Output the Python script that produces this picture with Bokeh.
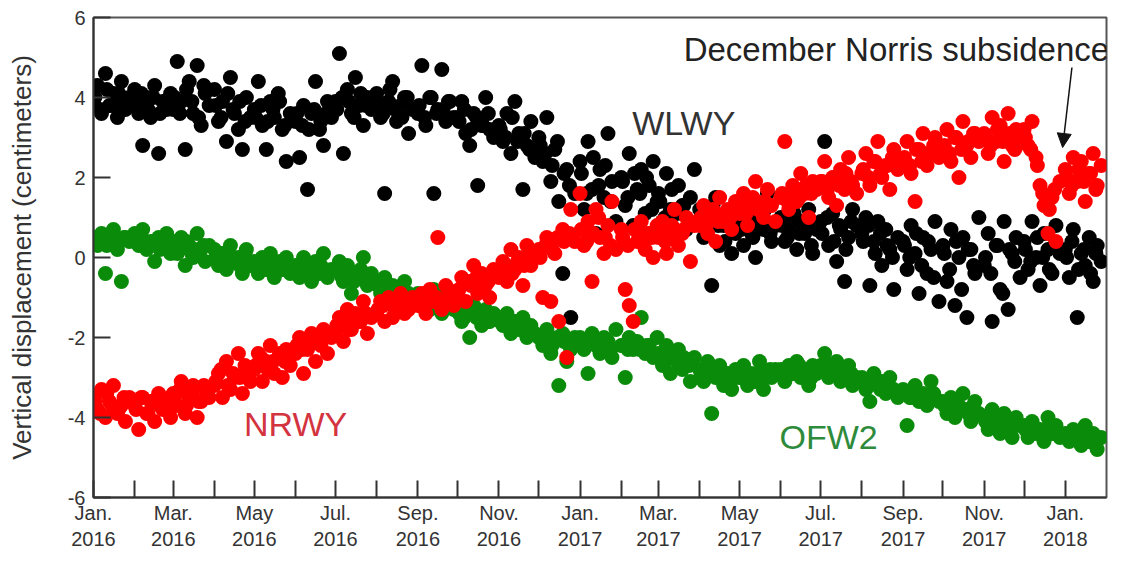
from datetime import datetime, timedelta
from bokeh.plotting import figure
from bokeh.models import FixedTicker, CustomJSTickFormatter, Arrow, NormalHead, Range1d
from bokeh.core.properties import value
from bokeh.embed import file_html
from bokeh.resources import INLINE

# ---- data -------------------------------------------------------------
months = [(2016, m) for m in range(1, 13)] + [(2017, m) for m in range(1, 13)] + [(2018, 1)]
sample_days = [0, 3, 6, 9, 12, 15, 18, 21, 24, 27]   # main samples within each month
extra_days = [1, 5, 10, 14, 19, 23]                   # additional samples within each month

month_labels = ["Jan.", "", "Mar.", "", "May", "", "Jul.", "", "Sep.", "", "Nov.", ""]
y_ticks = [-6, -4, -2, 0, 2, 4, 6]

# WLWY vertical displacement (cm), 10 samples per month, Jan 2016 .. Jan 2018
wlwy = [
    3.9, 4.3, 3.6, 4.6, 3.8, 4.1, 3.5, 4.4, 3.7, 4.0,
    4.2, 3.6, 2.8, 4.0, 3.5, 4.3, 2.6, 3.9, 3.7, 4.1,
    3.7, 4.9, 3.9, 2.7, 4.4, 3.6, 4.8, 3.3, 4.1, 3.8,
    4.2, 3.4, 3.9, 2.9, 4.5, 3.6, 3.2, 2.7, 4.0, 3.5,
    3.7, 4.4, 3.3, 2.7, 3.9, 3.5, 4.1, 3.2, 2.4, 3.6,
    3.4, 2.5, 3.8, 1.7, 3.6, 4.4, 3.2, 2.8, 3.9, 3.5,
    3.9, 5.1, 2.6, 4.2, 3.6, 4.5, 3.8, 3.3, 4.0, 3.7,
    4.1, 3.5, 1.6, 3.9, 4.4, 3.4, 3.8, 4.0, 3.1, 3.7,
    3.6, 4.8, 3.3, 4.0, 1.6, 3.7, 4.7, 3.4, 3.9, 3.5,
    3.5, 3.9, 3.1, 2.8, 3.6, 1.8, 3.3, 4.0, 3.2, 3.0,
    3.3, 2.9, 3.6, 2.6, 3.9, 3.1, 1.7, 2.8, 3.4, 2.5,
    3.0, 2.4, 3.5, 1.9, 2.7, 1.4, -0.4, 2.2, -1.5, 1.6,
    2.4, 1.2, 2.9, 1.7, 0.6, 2.2, 1.5, 3.1, 1.9, 0.9,
    2.0, 1.3, 2.6, 0.8, 1.7, 2.2, 1.1, 1.8, 2.4, 1.4,
    1.6, 0.9, 2.1, 1.2, 0.5, 1.8, 1.3, 0.7, 1.5, 2.2,
    1.2, 0.5, 0.9, -0.7, 1.5, 0.3, 0.8, 1.1, 0.1, 0.6,
    0.9, 0.3, 1.4, 0.6, 0.0, 1.1, 0.7, 1.6, 0.4, 0.8,
    1.0, 0.4, 0.8, 1.3, 0.2, 0.9, 0.6, 1.2, 0.1, 0.7,
    0.9, 2.9, 0.3, 1.1, -0.1, 0.7, -0.6, 0.5, 1.2, 0.8,
    0.6, 1.0, -0.7, 0.4, 0.9, -0.2, 0.7, 0.2, -0.8, 0.5,
    0.4, -0.3, 0.8, 0.1, -0.9, 0.5, -0.4, 0.2, 0.9, -1.1,
    0.3, -0.6, 0.7, -1.2, 0.0, 0.5, -1.5, 0.2, -0.4, 1.0,
    -0.2, 0.6, -1.6, 0.3, -0.8, 0.9, -1.3, 0.1, 0.5, -0.5,
    0.4, -0.3, 0.9, 0.0, -0.7, 0.6, 0.2, -0.4, 0.8, 0.1,
    0.2, -0.5, 0.7, -1.5, 0.1, -0.2, 0.5, -0.6, 0.3, -0.1,
]
# WLWY additional samples, 6 per month
wlwy_extra = [
    4.0, 3.7, 4.2, 3.8, 4.1, 3.9,
    3.8, 4.1, 3.7, 4.0, 3.6, 3.9,
    4.0, 3.6, 4.2, 3.9, 3.5, 4.3,
    3.8, 3.5, 4.1, 3.7, 3.9, 3.4,
    3.5, 3.8, 3.4, 3.7, 3.9, 3.3,
    3.6, 3.3, 3.2, 3.7, 3.4, 3.6,
    3.7, 4.0, 3.9, 3.5, 4.1, 3.8,
    3.9, 3.6, 4.2, 3.7, 3.5, 4.0,
    3.8, 3.5, 4.0, 3.6, 3.7, 3.9,
    3.4, 3.7, 3.2, 3.5, 3.3, 3.6,
    3.2, 3.0, 3.5, 2.9, 3.1, 2.7,
    2.8, 2.6, 2.3, 2.9, 2.1, 1.8,
    2.1, 1.6, 2.5, 1.8, 2.3, 1.4,
    1.9, 1.5, 2.1, 1.6, 2.0, 1.2,
    1.4, 1.0, 1.7, 1.1, 1.3, 0.9,
    1.0, 0.7, 1.3, 0.8, 0.4, 0.9,
    0.7, 1.0, 0.5, 0.9, 1.2, 0.6,
    0.8, 0.5, 1.1, 0.6, 0.9, 0.3,
    0.6, 1.0, 0.4, 0.8, 0.2, 0.9,
    0.4, 0.8, 0.1, 0.6, 0.3, 0.0,
    0.3, 0.0, 0.6, -0.2, 0.4, -0.5,
    0.1, -0.3, 0.4, -0.8, 0.2, -0.2,
    0.0, -0.4, 0.3, -0.9, 0.2, -0.1,
    0.2, -0.1, 0.5, 0.0, -0.3, 0.3,
    0.0, 0.4, -0.3, 0.2, -0.4, 0.1,
]

# NRWY vertical displacement (cm)
nrwy = [
    -3.5, -3.8, -3.3, -4.0, -3.6, -3.2, -3.9, -3.7, -4.1, -3.5,
    -3.7, -4.3, -3.5, -3.9, -3.6, -4.1, -3.4, -3.8, -3.6, -4.0,
    -3.4, -3.7, -3.1, -3.9, -3.5, -3.2, -4.0, -3.6, -3.3, -3.5,
    -3.2, -2.9, -3.5, -2.6, -3.3, -3.0, -2.4, -3.4, -2.8, -3.1,
    -2.8, -2.4, -3.1, -2.6, -2.2, -2.9, -2.5, -3.0, -2.3, -2.7,
    -2.4, -2.0, -2.9, -2.3, -1.9, -2.6, -2.1, -1.8, -2.4, -2.0,
    -1.9, -1.5, -2.1, -1.3, -1.8, -1.4, -1.6, -1.1, -1.9, -1.5,
    -1.4, -1.1, -1.6, -1.0, -1.5, -1.2, -0.9, -1.4, -1.3, -1.0,
    -1.2, -0.9, -1.4, -0.8, -1.1, 0.5, -1.3, -0.7, -1.0, -1.2,
    -0.9, -0.5, -1.1, -0.6, -0.2, -0.9, -0.4, -0.7, -1.0, -0.3,
    -0.5, -0.1, -0.6, 0.2, -0.3, 0.0, -0.7, 0.3, -0.2, 0.1,
    0.2, -1.0, 0.5, -1.1, 0.1, -1.6, 0.7, -2.5, 1.2, 0.4,
    1.6, 0.3, 0.9, -0.6, 1.2, 0.5, 0.1, 0.8, 1.4, 0.2,
    0.7, -0.8, -1.2, -1.6, 0.4, 0.9, 0.2, 0.6, 0.0, 0.8,
    0.5, 0.9, 0.1, 0.7, 1.2, 0.3, 0.6, 1.0, -0.1, 0.8,
    0.8, 1.3, 0.6, 1.1, 0.4, 1.5, 0.9, 1.2, 0.7, 1.4,
    1.1, 1.6, 0.8, 1.4, 1.9, 1.2, 1.0, 1.7, 1.3, 0.9,
    1.5, 2.9, 1.2, 1.8, 1.4, 2.1, 1.6, 1.0, 1.9, 1.7,
    1.9, 2.4, 1.5, 2.0, 1.3, 2.2, 1.7, 2.5, 1.8, 1.6,
    2.1, 2.6, 1.8, 2.4, 2.9, 2.0, 2.3, 1.7, 2.7, 2.2,
    2.4, 2.9, 2.1, 1.4, 2.7, 3.1, 2.3, 2.6, 3.0, 2.5,
    2.7, 3.2, 2.4, 3.0, 2.0, 3.4, 2.8, 2.5, 3.1, 2.9,
    3.1, 2.6, 3.5, 2.9, 3.3, 2.4, 3.6, 2.8, 3.2, 3.0,
    3.2, 2.8, 3.4, 2.5, 1.8, 1.3, 0.6, 1.5, 0.4, 1.9,
    2.2, 1.6, 2.5, 1.9, 2.4, 1.4, 2.1, 2.6, 1.8, 2.3,
]
nrwy_extra = [
    -3.6, -3.9, -3.4, -3.7, -3.8, -3.5,
    -3.8, -3.5, -3.9, -3.6, -3.7, -3.8,
    -3.5, -3.3, -3.7, -3.4, -3.6, -3.2,
    -3.1, -2.8, -3.2, -2.9, -3.0, -2.7,
    -2.7, -2.5, -2.8, -2.6, -2.4, -2.6,
    -2.2, -2.3, -2.1, -2.0, -2.2, -1.9,
    -1.7, -1.6, -1.8, -1.5, -1.6, -1.4,
    -1.3, -1.2, -1.1, -1.3, -1.2, -1.1,
    -1.0, -1.1, -0.9, -1.0, -1.2, -0.8,
    -0.8, -0.6, -0.7, -0.5, -0.8, -0.6,
    -0.3, -0.2, -0.4, -0.1, -0.2, 0.0,
    0.0, 0.3, 0.2, 0.5, 0.4, 0.6,
    0.7, 0.4, 0.6, 1.0, 0.5, 0.3,
    0.5, 0.3, 0.7, 0.4, 0.6, 0.5,
    0.6, 0.4, 0.8, 0.5, 0.7, 0.9,
    1.0, 0.8, 1.2, 0.9, 1.1, 1.0,
    1.3, 1.1, 1.5, 1.2, 1.4, 1.3,
    1.6, 1.4, 1.7, 1.5, 1.8, 1.6,
    1.9, 1.7, 2.0, 1.8, 2.1, 1.9,
    2.2, 2.0, 2.4, 2.1, 2.3, 2.5,
    2.5, 2.3, 2.7, 2.4, 2.6, 2.8,
    2.8, 2.6, 3.0, 2.7, 2.9, 3.1,
    3.0, 2.8, 3.2, 2.9, 3.1, 2.7,
    3.0, 2.7, 2.3, 1.6, 1.2, 1.7,
    2.0, 1.8, 2.2, 1.9, 2.1, 1.7,
]

# OFW2 vertical displacement (cm)
ofw2 = [
    0.5, 0.3, 0.6, -0.4, 0.4, 0.7, 0.2, -0.6, 0.5, 0.4,
    0.6, 0.3, 0.7, 0.2, 0.4, -0.1, 0.5, 0.3, 0.6, 0.1,
    0.4, 0.1, 0.5, -0.2, 0.3, 0.0, 0.6, 0.2, -0.1, 0.3,
    0.2, -0.2, 0.1, -0.3, 0.3, -0.1, 0.0, -0.4, 0.2, -0.2,
    -0.1, -0.4, 0.0, -0.3, 0.1, -0.5, -0.2, -0.3, 0.0, -0.4,
    -0.2, -0.5, 0.0, -0.3, -0.6, -0.1, -0.4, 0.1, -0.5, -0.3,
    -0.3, -0.1, -0.6, -0.2, -0.9, -0.4, -0.5, 0.0, -0.7, -0.4,
    -0.6, -0.9, -0.5, -1.0, -0.7, -0.8, -1.1, -0.6, -0.9, -1.0,
    -0.9, -1.2, -1.0, -1.3, -0.8, -1.1, -1.4, -1.0, -1.2, -1.3,
    -1.3, -1.6, -1.4, -2.0, -1.2, -1.5, -1.7, -1.3, -1.6, -1.4,
    -1.5, -1.7, -1.4, -1.9, -1.6, -1.8, -1.5, -2.0, -1.7, -1.9,
    -2.0, -2.2, -1.8, -2.4, -2.1, -3.2, -1.9, -2.6, -2.3, -2.0,
    -2.0, -2.3, -2.9, -1.9, -2.2, -2.4, -2.0, -2.1, -2.5, -1.8,
    -2.2, -3.0, -2.0, -2.3, -2.1, -1.5, -2.4, -2.2, -2.5, -2.0,
    -2.4, -2.7, -2.2, -2.9, -2.5, -2.3, -2.8, -2.6, -3.1, -2.5,
    -2.8, -3.1, -2.6, -3.9, -3.0, -2.7, -3.2, -2.9, -3.3, -2.8,
    -3.0, -2.7, -3.2, -2.9, -3.1, -2.6, -3.3, -2.9, -3.0, -2.8,
    -2.8, -3.1, -2.7, -2.9, -2.6, -3.0, -2.8, -3.2, -2.7, -2.9,
    -2.7, -2.4, -3.0, -2.8, -2.6, -3.1, -2.9, -2.7, -3.2, -3.0,
    -3.0, -3.3, -3.6, -2.9, -3.2, -3.1, -3.4, -3.0, -3.3, -3.5,
    -3.3, -4.2, -3.5, -3.2, -3.6, -3.4, -3.7, -3.1, -3.5, -3.6,
    -3.6, -3.9, -3.5, -4.0, -3.7, -3.4, -3.8, -4.1, -3.6, -3.9,
    -4.0, -4.3, -3.8, -4.2, -4.4, -3.9, -4.1, -4.5, -4.0, -4.2,
    -4.2, -4.5, -4.1, -4.4, -4.3, -4.6, -4.0, -4.4, -4.2, -4.5,
    -4.4, -4.6, -4.3, -4.5, -4.7, -4.2, -4.6, -4.4, -4.8, -4.5,
]
ofw2_extra = [
    0.4, 0.5, 0.3, 0.6, 0.4, 0.5,
    0.4, 0.5, 0.3, 0.4, 0.2, 0.5,
    0.3, 0.2, 0.4, 0.1, 0.2, 0.3,
    0.0, 0.1, -0.1, 0.0, -0.2, 0.1,
    -0.2, -0.1, -0.3, -0.2, -0.1, -0.3,
    -0.3, -0.2, -0.4, -0.3, -0.2, -0.4,
    -0.3, -0.5, -0.4, -0.6, -0.3, -0.5,
    -0.7, -0.8, -0.9, -0.8, -0.7, -0.9,
    -1.0, -1.1, -1.2, -1.1, -1.0, -1.2,
    -1.4, -1.5, -1.3, -1.5, -1.4, -1.6,
    -1.6, -1.7, -1.8, -1.6, -1.7, -1.8,
    -2.0, -2.1, -2.2, -2.0, -2.1, -2.2,
    -2.1, -2.2, -2.0, -2.2, -2.1, -2.3,
    -2.2, -2.3, -2.1, -2.3, -2.2, -2.4,
    -2.5, -2.6, -2.4, -2.6, -2.5, -2.7,
    -2.9, -3.0, -2.8, -3.0, -2.9, -3.1,
    -3.0, -2.9, -3.1, -2.9, -3.0, -2.8,
    -2.9, -2.8, -2.9, -2.7, -2.8, -3.0,
    -2.8, -2.7, -2.9, -2.8, -3.0, -2.9,
    -3.1, -3.2, -3.1, -3.3, -3.2, -3.3,
    -3.4, -3.5, -3.4, -3.5, -3.6, -3.4,
    -3.7, -3.8, -3.7, -3.8, -3.9, -3.7,
    -4.1, -4.2, -4.0, -4.1, -4.3, -4.2,
    -4.3, -4.4, -4.3, -4.4, -4.2, -4.4,
    -4.5, -4.4, -4.6, -4.5, -4.6, -4.7,
]

# annotation texts
station_names = ["WLWY", "NRWY", "OFW2"]
station_label_dates = [datetime(2017, 3, 20), datetime(2016, 6, 1), datetime(2017, 7, 7)]
station_label_y = [3.37, -4.17, -4.48]
station_label_colors = ["#333333", "#d3343f", "#2f8b3c"]
note_text = "December Norris subsidence"

# ---- helpers ----------------------------------------------------------
EPOCH = datetime(1970, 1, 1)


def ms(dt):
    return (dt - EPOCH).total_seconds() * 1000.0


def month_dates(days):
    out = []
    for (yy, mm) in months:
        for d in days:
            out.append(ms(datetime(yy, mm, 1) + timedelta(days=d)))
    return out


dates = month_dates(sample_days)
dates_extra = month_dates(extra_days)
tick_ms = [ms(datetime(yy, mm, 1)) for (yy, mm) in months]

# ---- figure -----------------------------------------------------------
p = figure(width=1109, height=553, x_axis_type="datetime",
           output_backend="svg", toolbar_location=None,
           x_range=Range1d(ms(datetime(2016, 1, 1)), ms(datetime(2018, 2, 1))),
           y_range=Range1d(-6, 6),
           min_border_left=93, min_border_right=3, min_border_top=17, min_border_bottom=56)

p.background_fill_color = "white"
p.border_fill_color = "white"
p.outline_line_color = "#555555"
p.outline_line_width = 2
p.xgrid.grid_line_color = None
p.ygrid.grid_line_color = None

SZ = 15
for xs, ys, col in [(dates, ofw2, "#0a8c0a"), (dates_extra, ofw2_extra, "#0a8c0a"),
                    (dates, wlwy, "#000000"), (dates_extra, wlwy_extra, "#000000"),
                    (dates, nrwy, "#ff0000"), (dates_extra, nrwy_extra, "#ff0000")]:
    k = min(len(xs), len(ys))
    p.scatter(xs[:k], ys[:k], size=SZ, color=col, line_color=None)

# axes
labels_js = "[" + ",".join('"%s"' % s for s in month_labels) + "]"
p.xaxis.ticker = FixedTicker(ticks=tick_ms)
p.xaxis.formatter = CustomJSTickFormatter(code="""
    const names = %s;
    const d = new Date(tick);
    const m = d.getUTCMonth();
    if (names[m] === "") { return ""; }
    return names[m] + "\\n" + d.getUTCFullYear();
""" % labels_js)
p.yaxis.ticker = FixedTicker(ticks=y_ticks)
p.yaxis.formatter = CustomJSTickFormatter(code="return tick.toFixed(0);")

for ax in (p.xaxis[0], p.yaxis[0]):
    ax.major_tick_in = 17
    ax.major_tick_out = 0
    ax.minor_tick_line_color = None
    ax.axis_line_color = "#333333"
    ax.axis_line_width = 2
    ax.major_tick_line_color = "#333333"
    ax.major_tick_line_width = 2
    ax.major_label_text_font = "Liberation Sans"
    ax.major_label_text_font_size = "20px"
    ax.major_label_text_color = "#333333"
p.xaxis.major_label_standoff = 4
p.yaxis.major_label_standoff = 8

p.yaxis.axis_label = "Vertical displacement (centimeters)"
p.yaxis.axis_label_text_font = "Liberation Sans"
p.yaxis.axis_label_text_font_size = "26px"
p.yaxis.axis_label_text_font_style = "normal"
p.yaxis.axis_label_text_color = "#333333"
p.yaxis.axis_label_standoff = 28

# station labels
p.text(x=[ms(d) for d in station_label_dates], y=station_label_y, text=station_names,
       text_color=station_label_colors, text_font=value("Liberation Sans"),
       text_font_size=value("34px"), text_align="center", text_baseline="middle")

# annotation with arrow
p.text(x=[ms(datetime(2018, 2, 3))], y=[5.2], text=[note_text],
       text_color="#222222", text_font=value("Liberation Sans"),
       text_font_size=value("33px"), text_align="right", text_baseline="middle")
p.add_layout(Arrow(end=NormalHead(size=14, fill_color="#111111", line_color="#111111"),
                   x_start=ms(datetime(2018, 1, 6)), y_start=4.75,
                   x_end=ms(datetime(2017, 12, 30)), y_end=2.75,
                   line_color="#111111", line_width=1.5))

open("out.html", "w").write(file_html(p, INLINE))
